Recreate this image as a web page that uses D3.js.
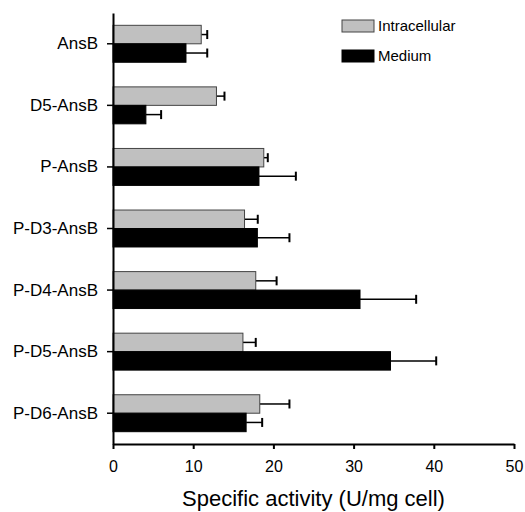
<!DOCTYPE html>
<html>
<head>
<meta charset="utf-8">
<script src="https://cdn.jsdelivr.net/npm/d3@7"></script>
<style>
  body { margin: 0; background: #fff; }
  text { font-family: "Liberation Sans", Arial, sans-serif; fill: #000; }
</style>
</head>
<body>
<script>
var categories = ["AnsB", "D5-AnsB", "P-AnsB", "P-D3-AnsB", "P-D4-AnsB", "P-D5-AnsB", "P-D6-AnsB"];
var seriesNames = ["Intracellular", "Medium"];
var intracellular = [11.0, 12.9, 18.8, 16.4, 17.8, 16.2, 18.3];
var intracellularErr = [0.75, 1.0, 0.5, 1.65, 2.6, 1.6, 3.7];
var medium = [9.1, 4.1, 18.2, 18.0, 30.8, 34.6, 16.6];
var mediumErr = [2.65, 1.9, 4.6, 4.0, 7.0, 5.7, 2.0];
var xTicks = [0, 10, 20, 30, 40, 50];

var width = 525,
    height = 512,
    margin = {top: 13, right: 11, bottom: 68, left: 113};

var colors = ["#c0c0c0", "#000000"];

var svg = d3.select("body").append("svg")
    .attr("width", width)
    .attr("height", height);

var x = d3.scaleLinear()
    .domain([0, 50])
    .range([margin.left, width - margin.right]);

var y = d3.scaleBand()
    .domain(categories)
    .range([margin.top, height - margin.bottom])
    .paddingInner(0.4)
    .paddingOuter(0.2);

var sub = d3.scaleBand()
    .domain(seriesNames)
    .range([0, y.bandwidth()]);

var rows = categories.map(function(c, i) {
    return {
        cat: c,
        vals: [
            {s: seriesNames[0], v: intracellular[i], e: intracellularErr[i], k: 0},
            {s: seriesNames[1], v: medium[i], e: mediumErr[i], k: 1}
        ]
    };
});

var groups = svg.selectAll("g.row")
    .data(rows)
    .enter().append("g")
    .attr("class", "row")
    .attr("transform", function(d) { return "translate(0," + y(d.cat) + ")"; });

var items = groups.selectAll("g.item")
    .data(function(d) { return d.vals; })
    .enter().append("g")
    .attr("class", "item");

// error bars first so the bar covers the start
items.append("line")
    .attr("x1", function(d) { return x(d.v); })
    .attr("x2", function(d) { return x(d.v + d.e); })
    .attr("y1", function(d) { return sub(d.s) + sub.bandwidth() / 2; })
    .attr("y2", function(d) { return sub(d.s) + sub.bandwidth() / 2; })
    .attr("stroke", "#000")
    .attr("stroke-width", 1.5);

items.append("line")
    .attr("x1", function(d) { return x(d.v + d.e); })
    .attr("x2", function(d) { return x(d.v + d.e); })
    .attr("y1", function(d) { return sub(d.s) + sub.bandwidth() / 2 - 4.5; })
    .attr("y2", function(d) { return sub(d.s) + sub.bandwidth() / 2 + 4.5; })
    .attr("stroke", "#000")
    .attr("stroke-width", 2);

items.append("rect")
    .attr("x", x(0))
    .attr("y", function(d) { return sub(d.s); })
    .attr("width", function(d) { return x(d.v) - x(0); })
    .attr("height", sub.bandwidth())
    .attr("fill", function(d) { return colors[d.k]; })
    .attr("stroke", function(d) { return d.k === 0 ? "#444" : "#000"; })
    .attr("stroke-width", 1);

// x axis
var xAxis = svg.append("g")
    .attr("transform", "translate(0," + (height - margin.bottom) + ")")
    .call(d3.axisBottom(x).tickValues(xTicks).tickSize(5).tickSizeOuter(0).tickPadding(12));

xAxis.select(".domain").attr("stroke-width", 2);
xAxis.selectAll(".tick line").attr("stroke-width", 2);
xAxis.selectAll("text")
    .attr("font-size", 16)
    .attr("font-family", "Liberation Sans, Arial, sans-serif");

// y axis
var yAxis = svg.append("g")
    .attr("transform", "translate(" + margin.left + ",0)")
    .call(d3.axisLeft(y).tickSize(6).tickSizeOuter(0).tickPadding(9));

yAxis.select(".domain").attr("stroke-width", 2);
yAxis.selectAll(".tick line").attr("stroke-width", 1.5);
yAxis.selectAll("text")
    .attr("font-size", 17)
    .attr("font-family", "Liberation Sans, Arial, sans-serif");

svg.append("text")
    .attr("x", (x(0) + x(50)) / 2)
    .attr("y", 506)
    .attr("text-anchor", "middle")
    .attr("font-size", 22)
    .text("Specific activity (U/mg cell)");

// legend
var legend = svg.selectAll("g.legend")
    .data(seriesNames)
    .enter().append("g")
    .attr("class", "legend")
    .attr("transform", function(d, i) { return "translate(342," + (20 + i * 30) + ")"; });

legend.append("rect")
    .attr("width", 32)
    .attr("height", 12)
    .attr("fill", function(d, i) { return colors[i]; })
    .attr("stroke", function(d, i) { return i === 0 ? "#444" : "#000"; })
    .attr("stroke-width", 1);

legend.append("text")
    .attr("x", 36)
    .attr("y", 6)
    .attr("dy", "0.35em")
    .attr("font-size", 15)
    .text(function(d) { return d; });
</script>
</body>
</html>
